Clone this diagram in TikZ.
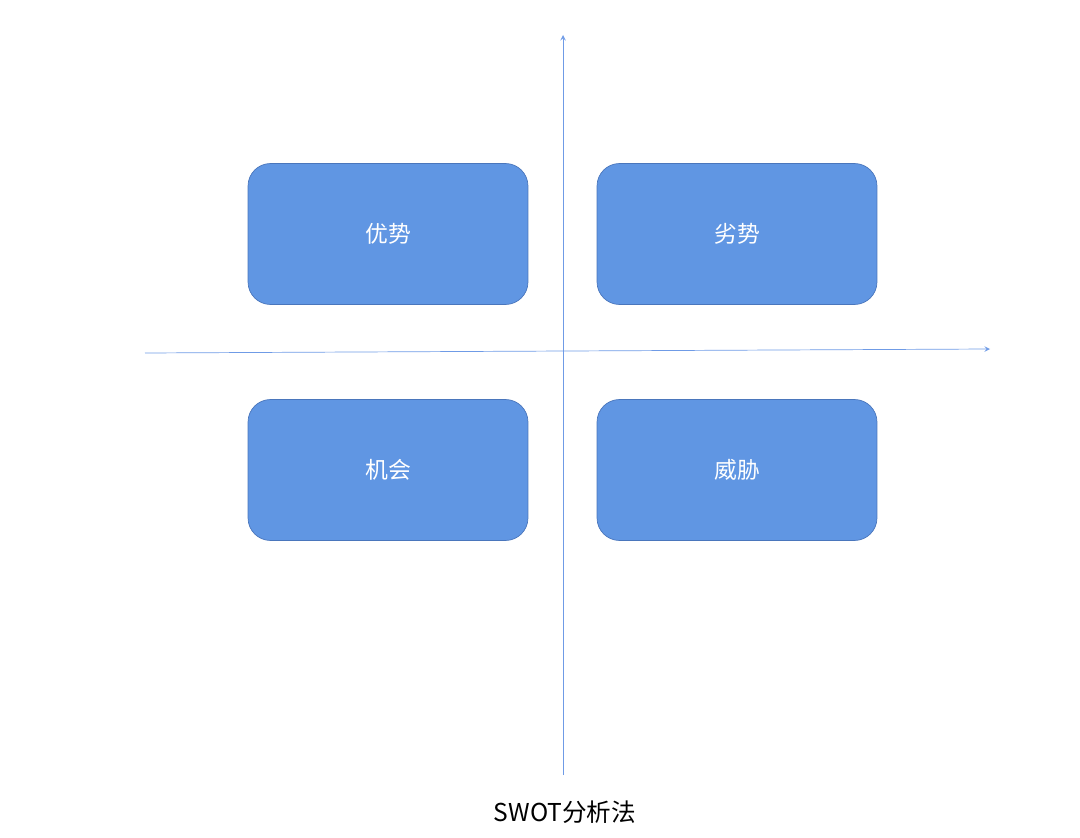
\documentclass[tikz,border=0pt]{standalone}
\usepackage{fontspec}
\setmainfont{Noto Sans CJK SC}
\usetikzlibrary{positioning}
\definecolor{boxfill}{HTML}{6096E3}
\definecolor{boxline}{HTML}{4A76BC}
\definecolor{axisline}{HTML}{6F9BE6}

\begin{document}
\begin{tikzpicture}[x=0.02cm, y=-0.02cm, >=stealth,
  quad/.style={draw=boxline, fill=boxfill, rounded corners=0.45cm,
    minimum width=5.6cm, minimum height=2.82cm, text=white,
    font=\fontsize{13}{15}\selectfont}]
\useasboundingbox (0,0) rectangle (1080,838);

\foreach \n/\l/\x/\y in {s/优势/388/234, w/劣势/737/234, o/机会/388/470, t/威胁/737/470}
  \node [quad] (quad-\n) at (\x,\y) {\l};

\coordinate (v-bottom) at (563,775);
\coordinate (v-top) at (563,35);
\coordinate (h-left) at (145,353);
\coordinate (h-right) at (990,349);

\draw [->, axisline, thin] (v-bottom) -- (v-top);
\draw [->, axisline, thin] (h-left) -- (h-right);

\node [font=\fontsize{14}{16}\selectfont] (title) at (565,812) {SWOT分析法};
\end{tikzpicture}
\end{document}
